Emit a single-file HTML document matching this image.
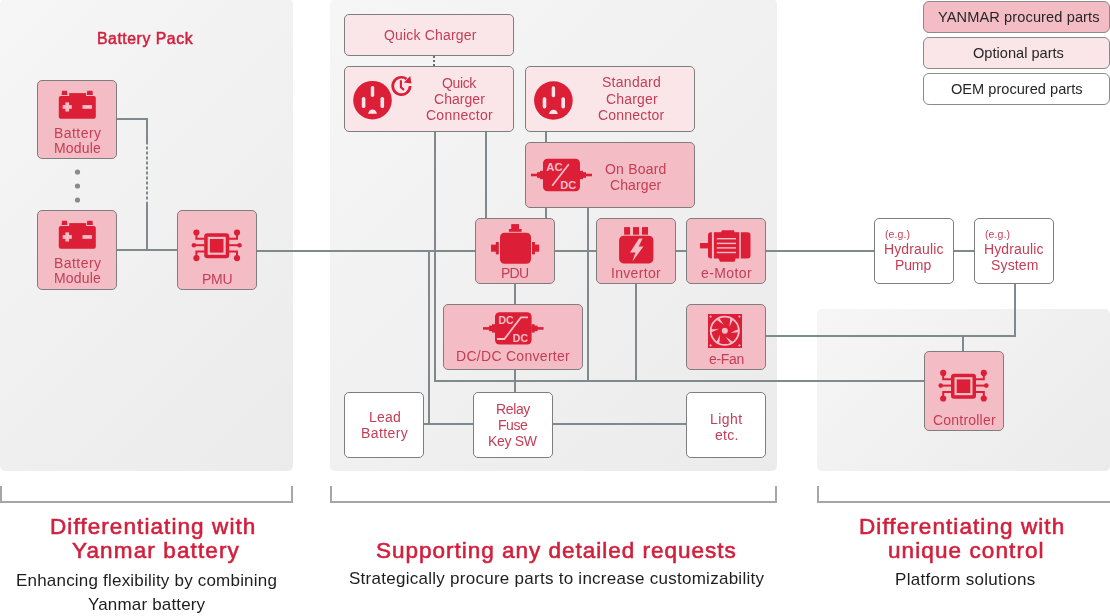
<!DOCTYPE html>
<html><head><meta charset="utf-8">
<style>
html,body{margin:0;padding:0;background:#fff;}
body{width:1110px;height:616px;position:relative;overflow:hidden;font-family:"Liberation Sans",sans-serif;}
.panel{position:absolute;border-radius:5px;background:linear-gradient(135deg,#f6f6f6 0%,#ebebeb 100%);}
.bx{position:absolute;box-sizing:border-box;border:1px solid #7e7e7e;border-radius:5px;}
.lg{position:absolute;box-sizing:border-box;border:1px solid #8a8a8a;border-radius:6px;}
.y{background:#f4bdc5;}
.o{background:#fae6e9;}
.w{background:#fff;}
.tl{position:absolute;white-space:nowrap;will-change:transform;}
</style></head><body>
<div class="panel" style="left:0;top:-1px;width:293px;height:472px;"></div>
<div class="panel" style="left:330px;top:-1px;width:447px;height:472px;"></div>
<div class="panel" style="left:817px;top:309px;width:293px;height:162px;"></div>
<svg width="1110" height="616" style="position:absolute;left:0;top:0">
<g stroke="#7f8a8d" stroke-width="2" fill="none">
<path d="M117 119H147V144.5"/>
<path d="M147 146.5V199.5" stroke-dasharray="3 2"/>
<path d="M147 201.7V250"/>
<path d="M117 250H177"/>
<path d="M257 251H475"/>
<path d="M429 251V424M424 424H473"/>
<path d="M435 131V381H924"/>
<path d="M486 131V218"/>
<path d="M546 131V142M546 207V218"/>
<path d="M588 207V381"/>
<path d="M515 284V304M515 370V392"/>
<path d="M636 284V381"/>
<path d="M555 251H596M676 251H686M766 251H874M954 251H974"/>
<path d="M1015 284V336H766M963 336V351"/>
<path d="M553 424H686"/>
<path d="M434 56V66" stroke-dasharray="2 2" stroke="#686e70"/>
</g>
<g fill="#8a8a8a">
<circle cx="77.5" cy="172" r="2.6"/><circle cx="77.5" cy="186" r="2.6"/><circle cx="77.5" cy="200" r="2.6"/>
</g>
</svg>
<div class="bx y" style="left:37px;top:80px;width:80px;height:79px;"></div>
<div class="bx y" style="left:37px;top:210px;width:80px;height:80px;"></div>
<div class="bx y" style="left:177px;top:210px;width:80px;height:80px;"></div>
<div class="bx o" style="left:344px;top:14px;width:170px;height:42px;"></div>
<div class="bx o" style="left:344px;top:66px;width:170px;height:66px;"></div>
<div class="bx o" style="left:525px;top:66px;width:170px;height:66px;"></div>
<div class="bx y" style="left:525px;top:142px;width:170px;height:66px;"></div>
<div class="bx y" style="left:475px;top:218px;width:80px;height:66px;"></div>
<div class="bx y" style="left:596px;top:218px;width:80px;height:66px;"></div>
<div class="bx y" style="left:686px;top:218px;width:80px;height:66px;"></div>
<div class="bx y" style="left:443px;top:304px;width:140px;height:66px;"></div>
<div class="bx y" style="left:686px;top:304px;width:80px;height:66px;"></div>
<div class="bx w" style="left:344px;top:392px;width:80px;height:66px;"></div>
<div class="bx w" style="left:473px;top:392px;width:80px;height:66px;"></div>
<div class="bx w" style="left:686px;top:392px;width:80px;height:66px;"></div>
<div class="bx w" style="left:874px;top:218px;width:80px;height:66px;"></div>
<div class="bx w" style="left:974px;top:218px;width:80px;height:66px;"></div>
<div class="bx y" style="left:924px;top:351px;width:80px;height:80px;"></div>
<div class="lg y" style="left:923px;top:1px;width:187px;height:32px;"></div>
<div class="lg o" style="left:923px;top:37px;width:187px;height:32px;"></div>
<div class="lg w" style="left:923px;top:73px;width:187px;height:32px;"></div>
<svg width="1110" height="616" style="position:absolute;left:0;top:0"><g stroke="#a6a6a6" stroke-width="2" fill="none">
<path d="M1 486V502H292V486"/>
<path d="M331 486V502H776V486"/>
<path d="M818 486V502H1111"/>
</g></svg>
<svg width="1110" height="616" style="position:absolute;left:0;top:0"><g fill="#dc1e36">
<path d="M62 90.8h5l0.4 4.1h-5.8z M87.2 90.8h5.3l0.4 4.1h-6.1z"/>
<rect x="58.8" y="95.9" width="37" height="22.9" rx="2"/>
<rect x="69.2" y="93.1" width="16.8" height="4"/>
</g><g fill="#f4bdc5"><rect x="62.7" y="105.1" width="9.1" height="3.7"/><rect x="65.4" y="102.4" width="3.7" height="9.1"/><rect x="82.5" y="105.1" width="9.4" height="3.7"/></g><g transform="translate(0,130)"><g fill="#dc1e36">
<path d="M62 90.8h5l0.4 4.1h-5.8z M87.2 90.8h5.3l0.4 4.1h-6.1z"/>
<rect x="58.8" y="95.9" width="37" height="22.9" rx="2"/>
<rect x="69.2" y="93.1" width="16.8" height="4"/>
</g><g fill="#f4bdc5"><rect x="62.7" y="105.1" width="9.1" height="3.7"/><rect x="65.4" y="102.4" width="3.7" height="9.1"/><rect x="82.5" y="105.1" width="9.4" height="3.7"/></g></g><g transform="translate(216.7,245.8)"><rect x="-12.5" y="-12.5" width="25" height="25" rx="3" fill="#dc1e36"/><rect x="-9" y="-9" width="18" height="18" fill="#f4bdc5"/><rect x="-6.8" y="-6.8" width="13.6" height="13.6" fill="#dc1e36"/><g stroke="#dc1e36" stroke-width="2" fill="none"><path d="M-12 -7H-20.3V-13"/><path d="M-12 -0.6H-22.5"/><path d="M-12 5.8H-20.3V12"/><path d="M12 -7H20.3V-13"/><path d="M12 -0.6H22.5"/><path d="M12 5.8H20.3V12"/></g><g fill="#dc1e36"><circle cx="-20.3" cy="-13.3" r="3.1"/><circle cx="-22.8" cy="-0.6" r="2.3"/><circle cx="-20.3" cy="12.3" r="3.1"/><circle cx="20.3" cy="-13.3" r="3.1"/><circle cx="22.8" cy="-0.6" r="2.3"/><circle cx="20.3" cy="12.3" r="3.1"/></g></g><g transform="translate(963.5,386.2)"><rect x="-12.5" y="-12.5" width="25" height="25" rx="3" fill="#dc1e36"/><rect x="-9" y="-9" width="18" height="18" fill="#f4bdc5"/><rect x="-6.8" y="-6.8" width="13.6" height="13.6" fill="#dc1e36"/><g stroke="#dc1e36" stroke-width="2" fill="none"><path d="M-12 -7H-20.3V-13"/><path d="M-12 -0.6H-22.5"/><path d="M-12 5.8H-20.3V12"/><path d="M12 -7H20.3V-13"/><path d="M12 -0.6H22.5"/><path d="M12 5.8H20.3V12"/></g><g fill="#dc1e36"><circle cx="-20.3" cy="-13.3" r="3.1"/><circle cx="-22.8" cy="-0.6" r="2.3"/><circle cx="-20.3" cy="12.3" r="3.1"/><circle cx="20.3" cy="-13.3" r="3.1"/><circle cx="22.8" cy="-0.6" r="2.3"/><circle cx="20.3" cy="12.3" r="3.1"/></g></g><g transform="translate(372.5,100.2)">
<circle r="19.3" fill="#dc1e36"/>
<g fill="#fae6e9">
<rect x="-1.7" y="-14.3" width="3.4" height="11" rx="1.7"/>
<rect x="-10.7" y="-3.3" width="3.6" height="11.2" rx="1.7"/>
<rect x="8" y="-3.3" width="3.6" height="11.2" rx="1.7"/>
<path d="M-4.3 13.6A4.3 4.3 0 0 1 4.3 13.6Z"/>
</g></g><g transform="translate(553.4,100.5)">
<circle r="19.3" fill="#dc1e36"/>
<g fill="#fae6e9">
<rect x="-1.7" y="-14.3" width="3.4" height="11" rx="1.7"/>
<rect x="-10.7" y="-3.3" width="3.6" height="11.2" rx="1.7"/>
<rect x="8" y="-3.3" width="3.6" height="11.2" rx="1.7"/>
<path d="M-4.3 13.6A4.3 4.3 0 0 1 4.3 13.6Z"/>
</g></g><path d="M410.1 86A8.7 8.7 0 1 1 406.6 79" fill="none" stroke="#dc1e36" stroke-width="2.7"/><path d="M403.9 82.6L410.3 76L411.4 83.6Z" fill="#dc1e36"/><path d="M400.9 80.2V87.2L404 90" stroke="#dc1e36" stroke-width="2.1" fill="none"/><g fill="#dc1e36"><rect x="543" y="158.8" width="37" height="32.4" rx="4.5"/><rect x="531" y="173.7" width="12" height="2.6"/><rect x="537" y="172.2" width="6" height="5.6"/><rect x="540" y="170.8" width="3" height="8.4"/><rect x="580" y="173.7" width="12" height="2.6"/><rect x="580" y="172.2" width="6" height="5.6"/><rect x="580" y="170.8" width="3" height="8.4"/></g><text fill="#f4bdc5" font-family="Liberation Sans" font-weight="bold" font-size="11.5" x="546.3" y="170.9" textLength="16.4" lengthAdjust="spacingAndGlyphs">AC</text><text fill="#f4bdc5" font-family="Liberation Sans" font-weight="bold" font-size="11.5" x="560.3" y="188.7" textLength="16" lengthAdjust="spacingAndGlyphs">DC</text><path d="M568.8 164.2L552.2 185.8" stroke="#f4bdc5" stroke-width="1.8"/><g fill="#dc1e36"><rect x="495" y="312.2" width="36.6" height="32.4" rx="4.5"/><rect x="483" y="327.09999999999997" width="12" height="2.6"/><rect x="489" y="325.59999999999997" width="6" height="5.6"/><rect x="492" y="324.2" width="3" height="8.4"/><rect x="531.6" y="327.09999999999997" width="12" height="2.6"/><rect x="531.6" y="325.59999999999997" width="6" height="5.6"/><rect x="531.6" y="324.2" width="3" height="8.4"/></g><text fill="#f4bdc5" font-family="Liberation Sans" font-weight="bold" font-size="11.5" x="498.5" y="323.6" textLength="15.2" lengthAdjust="spacingAndGlyphs">DC</text><text fill="#f4bdc5" font-family="Liberation Sans" font-weight="bold" font-size="11.5" x="512.8" y="341.8" textLength="15.2" lengthAdjust="spacingAndGlyphs">DC</text><path d="M496.9 339H504.4L520.9 317.4H528" stroke="#f4bdc5" stroke-width="1.8" fill="none"/><g fill="#dc1e36">
<rect x="500" y="232.8" width="31" height="31" rx="4.5"/>
<rect x="511.2" y="224.1" width="7.8" height="5.2"/><rect x="508.9" y="229" width="12.7" height="2.8"/>
<rect x="491" y="244.6" width="5" height="7.1"/><rect x="495.8" y="242" width="3" height="12.4"/>
<rect x="535" y="244.6" width="4.2" height="7.1"/><rect x="532" y="242" width="3" height="12.4"/>
</g><g fill="#dc1e36">
<rect x="619.1" y="235.8" width="34.3" height="27.6" rx="4.5"/>
<rect x="624.1" y="227.1" width="6" height="7.6"/><rect x="633" y="227.1" width="6" height="7.6"/><rect x="642" y="227.1" width="6" height="7.6"/>
</g><path d="M639 238.6H642.6L638.6 246.6H643.4L632.4 261.6L635.4 252.4H630Z" fill="#f4bdc5"/><g fill="#dc1e36">
<rect x="700" y="243" width="9" height="5.4"/>
<path d="M711.9 232.2V258.5H711A3 3 0 0 1 708 255.5V235.2A3 3 0 0 1 711 232.2Z"/>
<rect x="713.9" y="232.2" width="25.3" height="26.3"/>
<path d="M720 234H735L734 230.2H722Z"/>
<path d="M718.4 258H735.6L734.6 261.7H720Z"/>
<path d="M740.8 232.2H747.5A3 3 0 0 1 750.5 235.2V255.5A3 3 0 0 1 747.5 258.5H740.8Z"/>
</g>
<g fill="#f4bdc5"><rect x="716.8" y="238" width="19.2" height="1.4"/><rect x="716.8" y="242.7" width="19.2" height="1.4"/><rect x="716.8" y="247.2" width="19.2" height="1.4"/><rect x="716.8" y="251.8" width="19.2" height="1.4"/></g><rect x="708" y="314" width="34" height="34" fill="#dc1e36"/><circle cx="724.8" cy="330.8" r="14.1" fill="none" stroke="#f4bdc5" stroke-width="1.8"/><path d="M710.71 332.53Q714.60 330.80 719.20 328.65Q713.94 329.08 710.68 329.32Z" fill="#f4bdc5"/><path d="M716.25 319.46Q719.70 321.97 723.86 324.87Q720.86 320.53 719.02 317.83Z" fill="#f4bdc5"/><path d="M730.35 317.73Q729.90 321.97 729.46 327.02Q731.72 322.25 733.15 319.31Z" fill="#f4bdc5"/><path d="M738.89 329.07Q735.00 330.80 730.40 332.95Q735.66 332.52 738.92 332.28Z" fill="#f4bdc5"/><path d="M733.35 342.14Q729.90 339.63 725.74 336.73Q728.74 341.07 730.58 343.77Z" fill="#f4bdc5"/><path d="M719.25 343.87Q719.70 339.63 720.14 334.58Q717.88 339.35 716.45 342.29Z" fill="#f4bdc5"/><circle cx="724.8" cy="330.8" r="3" fill="#f4bdc5"/><path d="M709.3000000000001 316.6H711.9M710.6 315.3V317.90000000000003" stroke="#f4bdc5" stroke-width="0.8"/><path d="M738.1 316.6H740.6999999999999M739.4 315.3V317.90000000000003" stroke="#f4bdc5" stroke-width="0.8"/><path d="M709.3000000000001 345.4H711.9M710.6 344.09999999999997V346.7" stroke="#f4bdc5" stroke-width="0.8"/><path d="M738.1 345.4H740.6999999999999M739.4 344.09999999999997V346.7" stroke="#f4bdc5" stroke-width="0.8"/></svg>
<div class="tl" style="left:53.60px;top:125.00px;font-size:14px;line-height:17px;color:#c43d55;font-weight:normal;letter-spacing:0.441px;">Battery</div>
<div class="tl" style="left:53.60px;top:140.00px;font-size:14px;line-height:17px;color:#c43d55;font-weight:normal;letter-spacing:0.174px;">Module</div>
<div class="tl" style="left:53.60px;top:255.00px;font-size:14px;line-height:17px;color:#c43d55;font-weight:normal;letter-spacing:0.441px;">Battery</div>
<div class="tl" style="left:53.60px;top:270.00px;font-size:14px;line-height:17px;color:#c43d55;font-weight:normal;letter-spacing:0.174px;">Module</div>
<div class="tl" style="left:201.70px;top:271.00px;font-size:14px;line-height:17px;color:#c43d55;font-weight:normal;letter-spacing:-0.300px;">PMU</div>
<div class="tl" style="left:384.00px;top:27.00px;font-size:14px;line-height:17px;color:#c43d55;font-weight:normal;letter-spacing:0.184px;">Quick Charger</div>
<div class="tl" style="left:441.70px;top:75.00px;font-size:14px;line-height:17px;color:#c43d55;font-weight:normal;letter-spacing:-0.372px;">Quick</div>
<div class="tl" style="left:433.90px;top:91.00px;font-size:14px;line-height:17px;color:#c43d55;font-weight:normal;letter-spacing:0.047px;">Charger</div>
<div class="tl" style="left:426.20px;top:107.00px;font-size:14px;line-height:17px;color:#c43d55;font-weight:normal;letter-spacing:0.259px;">Connector</div>
<div class="tl" style="left:602.30px;top:74.00px;font-size:14px;line-height:17px;color:#c43d55;font-weight:normal;letter-spacing:0.281px;">Standard</div>
<div class="tl" style="left:605.60px;top:91.00px;font-size:14px;line-height:17px;color:#c43d55;font-weight:normal;letter-spacing:0.164px;">Charger</div>
<div class="tl" style="left:598.20px;top:107.00px;font-size:14px;line-height:17px;color:#c43d55;font-weight:normal;letter-spacing:0.209px;">Connector</div>
<div class="tl" style="left:604.90px;top:161.00px;font-size:14px;line-height:17px;color:#c43d55;font-weight:normal;letter-spacing:0.209px;">On Board</div>
<div class="tl" style="left:609.70px;top:177.00px;font-size:14px;line-height:17px;color:#c43d55;font-weight:normal;letter-spacing:0.114px;">Charger</div>
<div class="tl" style="left:500.90px;top:265.00px;font-size:14px;line-height:17px;color:#c43d55;font-weight:normal;letter-spacing:-0.774px;">PDU</div>
<div class="tl" style="left:611.00px;top:265.00px;font-size:14px;line-height:17px;color:#c43d55;font-weight:normal;letter-spacing:0.314px;">Invertor</div>
<div class="tl" style="left:700.90px;top:265.00px;font-size:14px;line-height:17px;color:#c43d55;font-weight:normal;letter-spacing:0.388px;">e-Motor</div>
<div class="tl" style="left:455.60px;top:348.00px;font-size:14px;line-height:17px;color:#c43d55;font-weight:normal;letter-spacing:0.291px;">DC/DC Converter</div>
<div class="tl" style="left:708.70px;top:351.00px;font-size:14px;line-height:17px;color:#c43d55;font-weight:normal;letter-spacing:-0.297px;">e-Fan</div>
<div class="tl" style="left:368.60px;top:409.00px;font-size:14px;line-height:17px;color:#c43d55;font-weight:normal;letter-spacing:0.181px;">Lead</div>
<div class="tl" style="left:360.80px;top:425.00px;font-size:14px;line-height:17px;color:#c43d55;font-weight:normal;letter-spacing:0.408px;">Battery</div>
<div class="tl" style="left:495.70px;top:401.00px;font-size:14px;line-height:17px;color:#c43d55;font-weight:normal;letter-spacing:-0.373px;">Relay</div>
<div class="tl" style="left:497.90px;top:417.00px;font-size:14px;line-height:17px;color:#c43d55;font-weight:normal;letter-spacing:-0.446px;">Fuse</div>
<div class="tl" style="left:487.80px;top:433.00px;font-size:14px;line-height:17px;color:#c43d55;font-weight:normal;letter-spacing:-0.330px;">Key SW</div>
<div class="tl" style="left:709.70px;top:411.00px;font-size:14px;line-height:17px;color:#c43d55;font-weight:normal;letter-spacing:0.433px;">Light</div>
<div class="tl" style="left:715.30px;top:427.00px;font-size:14px;line-height:17px;color:#c43d55;font-weight:normal;letter-spacing:0.241px;">etc.</div>
<div class="tl" style="left:885.10px;top:228.00px;font-size:10.5px;line-height:13px;color:#c43d55;font-weight:normal;letter-spacing:0.098px;">(e.g.)</div>
<div class="tl" style="left:884.10px;top:241.00px;font-size:14px;line-height:17px;color:#c43d55;font-weight:normal;letter-spacing:0.131px;">Hydraulic</div>
<div class="tl" style="left:985.10px;top:228.00px;font-size:10.5px;line-height:13px;color:#c43d55;font-weight:normal;letter-spacing:0.098px;">(e.g.)</div>
<div class="tl" style="left:984.10px;top:241.00px;font-size:14px;line-height:17px;color:#c43d55;font-weight:normal;letter-spacing:0.131px;">Hydraulic</div>
<div class="tl" style="left:895.40px;top:257.00px;font-size:14px;line-height:17px;color:#c43d55;font-weight:normal;letter-spacing:-0.129px;">Pump</div>
<div class="tl" style="left:990.90px;top:257.00px;font-size:14px;line-height:17px;color:#c43d55;font-weight:normal;letter-spacing:0.157px;">System</div>
<div class="tl" style="left:932.90px;top:412.00px;font-size:14px;line-height:17px;color:#c43d55;font-weight:normal;letter-spacing:0.208px;">Controller</div>
<div class="tl" style="left:97.00px;top:29.00px;font-size:15.8px;line-height:19px;color:#d21f3c;font-weight:normal;letter-spacing:0.545px;-webkit-text-stroke:0.5px #d21f3c;">Battery Pack</div>
<div class="tl" style="left:938.00px;top:8.00px;font-size:14.6px;line-height:18px;color:#262626;font-weight:normal;letter-spacing:0.100px;">YANMAR procured parts</div>
<div class="tl" style="left:973.40px;top:44.00px;font-size:14.6px;line-height:18px;color:#262626;font-weight:normal;letter-spacing:0.003px;">Optional parts</div>
<div class="tl" style="left:950.80px;top:80.00px;font-size:14.6px;line-height:18px;color:#262626;font-weight:normal;letter-spacing:0.006px;">OEM procured parts</div>
<div class="tl" style="left:49.50px;top:513.00px;font-size:22.5px;line-height:27px;color:#d21f3c;font-weight:normal;letter-spacing:1.086px;-webkit-text-stroke:0.6px #d21f3c;">Differentiating with</div>
<div class="tl" style="left:72.10px;top:537.00px;font-size:22.5px;line-height:27px;color:#d21f3c;font-weight:normal;letter-spacing:1.131px;-webkit-text-stroke:0.6px #d21f3c;">Yanmar battery</div>
<div class="tl" style="left:376.10px;top:537.00px;font-size:22.5px;line-height:27px;color:#d21f3c;font-weight:normal;letter-spacing:0.993px;-webkit-text-stroke:0.6px #d21f3c;">Supporting any detailed requests</div>
<div class="tl" style="left:859.00px;top:513.00px;font-size:22.5px;line-height:27px;color:#d21f3c;font-weight:normal;letter-spacing:1.081px;-webkit-text-stroke:0.6px #d21f3c;">Differentiating with</div>
<div class="tl" style="left:887.70px;top:537.00px;font-size:22.5px;line-height:27px;color:#d21f3c;font-weight:normal;letter-spacing:1.096px;-webkit-text-stroke:0.6px #d21f3c;">unique control</div>
<div class="tl" style="left:15.90px;top:571.00px;font-size:17px;line-height:20px;color:#1e1e1e;font-weight:normal;letter-spacing:0.202px;">Enhancing flexibility by combining</div>
<div class="tl" style="left:87.80px;top:595.00px;font-size:17px;line-height:20px;color:#1e1e1e;font-weight:normal;letter-spacing:0.165px;">Yanmar battery</div>
<div class="tl" style="left:348.60px;top:569.00px;font-size:17px;line-height:20px;color:#1e1e1e;font-weight:normal;letter-spacing:0.266px;">Strategically procure parts to increase customizability</div>
<div class="tl" style="left:895.10px;top:570.00px;font-size:17px;line-height:20px;color:#1e1e1e;font-weight:normal;letter-spacing:0.299px;">Platform solutions</div>
</body></html>
